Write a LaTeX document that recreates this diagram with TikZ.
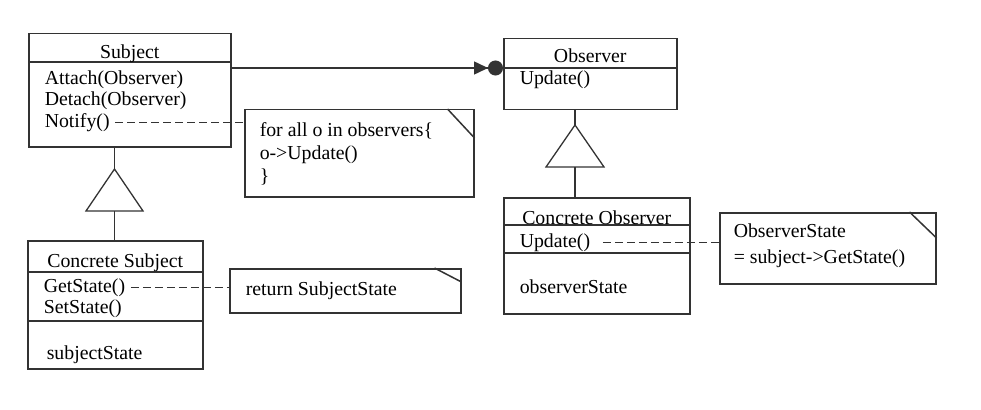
\documentclass[tikz,border=0pt]{standalone}
\usepackage{fontspec}
\setmainfont{Liberation Serif}
\usetikzlibrary{arrows.meta}

\begin{document}
\begin{tikzpicture}[x=1pt,y=-1pt,line width=1.5pt,
  classbox/.style={draw=black!80,anchor=north west,inner sep=0pt},
  notebox/.style={draw=black!80,anchor=north west,inner sep=0pt},
  txt/.style={anchor=base west,inner sep=0pt,font=\fontsize{19.8}{23}\selectfont},
  ttl/.style={anchor=base,inner sep=0pt,font=\fontsize{19.8}{23}\selectfont},
  dep/.style={draw=black!80,line width=1.1pt,dash pattern=on 8pt off 4pt,shorten <=5pt},
  gen/.style={draw=black!80,line width=1.3pt}]
  \useasboundingbox (0,0) rectangle (981,409);

  % clases
  \node[classbox,minimum width=202pt,minimum height=113pt] (subject) at (28,33) {};
  \node[classbox,minimum width=173pt,minimum height=71pt] (observer) at (503,38) {};
  \node[classbox,minimum width=175pt,minimum height=128pt] (csubject) at (27,240) {};
  \node[classbox,minimum width=186pt,minimum height=116pt] (cobserver) at (503,197) {};
  \draw[draw=black!80] (subject.west |- 0,62) -- (subject.east |- 0,62);
  \draw[draw=black!80] (observer.west |- 0,68) -- (observer.east |- 0,68);
  \draw[draw=black!80] (csubject.west |- 0,272) -- (csubject.east |- 0,272);
  \draw[draw=black!80] (csubject.west |- 0,321) -- (csubject.east |- 0,321);
  \draw[draw=black!80] (cobserver.west |- 0,225) -- (cobserver.east |- 0,225);
  \draw[draw=black!80] (cobserver.west |- 0,253) -- (cobserver.east |- 0,253);

  \node[ttl] (subjectttl) at (subject.north |- 0,59) {Subject};
  \node[txt] (attach) at (44,85) {Attach(Observer)};
  \node[txt] (detach) at (44,106) {Detach(Observer)};
  \node[txt] (notify) at (44,127) {Notify()};

  \node[ttl] (observerttl) at (observer.north |- 0,63) {Observer};
  \node[txt] (update) at (519,85) {Update()};

  \node[ttl] (csubjectttl) at (csubject.north |- 0,267) {Concrete Subject};
  \node[txt] (getstate) at (43,292) {GetState()};
  \node[txt] (setstate) at (43,313) {SetState()};
  \node[txt] (substate) at (46,359) {subjectState};

  \node[ttl] (cobserverttl) at (cobserver.north |- 0,224) {Concrete Observer};
  \node[txt] (cupdate) at (519,247) {Update()};
  \node[txt] (obsstate) at (519,293) {observerState};

  % notas
  \node[notebox,minimum width=229pt,minimum height=87pt] (notifynote) at (244,109) {};
  \draw[draw=black!80] ([xshift=-27pt]notifynote.north east) -- ([yshift=-29pt]notifynote.north east);
  \node[txt] (loop1) at (259,136) {for all o in observers\{};
  \node[txt] (loop2) at (259,159) {o->Update()};
  \node[txt] (loop3) at (259,182) {\}};

  \node[notebox,minimum width=231pt,minimum height=44pt] (getnote) at (229,268) {};
  \draw[draw=black!80] ([xshift=-27pt]getnote.north east) -- ([yshift=-14pt]getnote.north east);
  \node[txt] (ret) at (245,295) {return SubjectState};

  \node[notebox,minimum width=216pt,minimum height=71pt] (updnote) at (719,212) {};
  \draw[draw=black!80] ([xshift=-27pt]updnote.north east) -- ([yshift=-26pt]updnote.north east);
  \node[txt] (upd1) at (733,237) {ObserverState};
  \node[txt] (upd2) at (733,263) {= subject->GetState()};

  \draw[dep] (notify.east) -- (notify.east -| notifynote.west);
  \draw[dep] (getstate.east) -- (getstate.east -| getnote.west);
  \draw[dep,shorten <=12pt] (cupdate.east) -- (cupdate.east -| updnote.west);

  % asociacion
  \coordinate (obsport) at (observer.west |- 0,68);
  \draw[draw=black!80,-{Triangle[length=14pt,width=13pt]Circle[length=15pt]}]
    (subject.east |- obsport) -- (obsport);

  % herencia
  \coordinate (subtip) at (114.5,169);
  \coordinate (subbase) at (114.5,211);
  \draw[gen] (subtip) -- (86,211) -- (143,211) -- cycle;
  \draw[gen] (subtip |- subject.south) -- (subtip);
  \draw[gen] (subbase) -- (subbase |- csubject.north);
  \coordinate (obstip) at (575,125);
  \coordinate (obsbase) at (575,167);
  \draw[gen] (obstip) -- (546,167) -- (604,167) -- cycle;
  \draw[gen] (obstip |- observer.south) -- (obstip);
  \draw[gen] (obsbase) -- (obsbase |- cobserver.north);
\end{tikzpicture}
\end{document}
